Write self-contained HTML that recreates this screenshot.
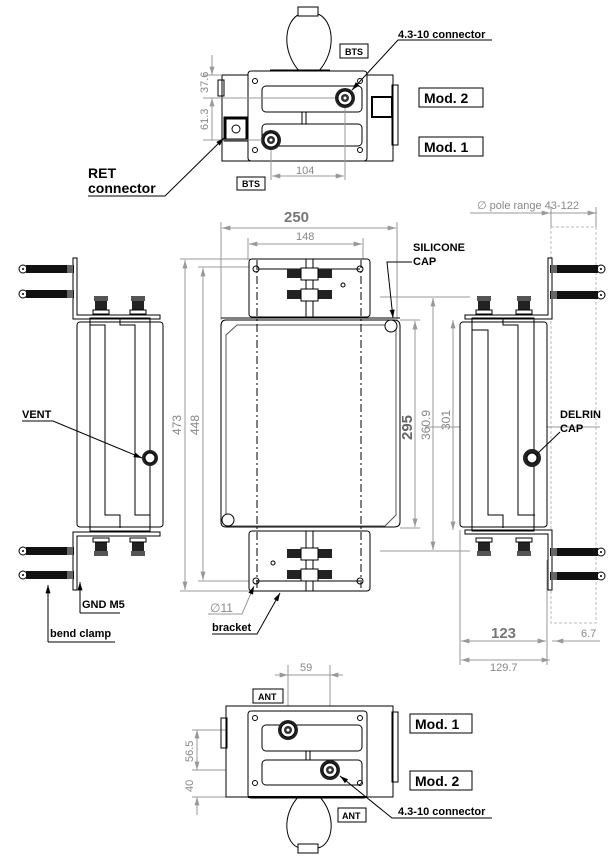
<!DOCTYPE html>
<html><head><meta charset="utf-8"><style>
html,body{margin:0;padding:0;background:#fff;}
svg{display:block;}
text{font-family:"Liberation Sans",sans-serif;}
.b{font-weight:bold;fill:#000;}
.d{fill:#888;}
</style></head><body>
<svg width="616" height="857" viewBox="0 0 616 857" xmlns="http://www.w3.org/2000/svg">
<defs>
<marker id="a" viewBox="0 0 10 6" refX="10" refY="3" markerWidth="9" markerHeight="5" orient="auto-start-reverse"><path d="M0,0L10,3L0,6z" fill="#999"/></marker>
<marker id="k" viewBox="0 0 10 6" refX="10" refY="3" markerWidth="9" markerHeight="5" orient="auto"><path d="M0,0L10,3L0,6z" fill="#000"/></marker>
<g id="bolt"><circle cx="0" cy="0" r="4" fill="#fff" stroke="#000"/><circle cx="0" cy="0" r="1" fill="#000"/><rect x="3" y="-4" width="48" height="8" fill="#111"/><rect x="44" y="-4" width="6" height="8" fill="#666"/></g>
<g id="conn"><circle r="10" fill="#222"/><circle r="7" fill="#fff" stroke="#000"/><circle r="4" fill="#333"/><circle r="1.5" fill="#fff"/></g>
<g id="sconn"><rect x="-7" y="0" width="14" height="5" fill="#555"/><rect x="-6" y="5" width="12" height="9" fill="#222"/><rect x="-8" y="14" width="16" height="4" fill="#fff" stroke="#000"/></g>
</defs>
<g fill="none" stroke="#000" stroke-width="1">

<!-- ===== TOP VIEW ===== -->
<path d="M300,72 C280,50 285,20 300,14 L318,14 C333,20 338,50 318,72Z" fill="#fff"/>
<rect x="298" y="7" width="20" height="9" fill="#fff"/>
<rect x="222" y="75" width="171" height="86" fill="#fff"/>
<rect x="218" y="80" width="6" height="16"/>
<rect x="392" y="85" width="6" height="60"/>
<rect x="248" y="71" width="119" height="90" rx="3" fill="#fff"/>
<rect x="262" y="86" width="100" height="26" rx="4"/>
<rect x="262" y="124" width="100" height="22" rx="4"/>
<line x1="302" y1="112" x2="302" y2="124" /><line x1="306" y1="112" x2="306" y2="124"/>
<rect x="372" y="97" width="20" height="20" fill="#fff" stroke-width="2"/>
<rect x="225" y="118" width="22" height="22" fill="#fff" stroke-width="3"/>
<circle cx="236" cy="129" r="4"/>
<circle cx="255" cy="81" r="2.5"/><circle cx="360" cy="81" r="2.5"/><circle cx="255" cy="150" r="2.5"/><circle cx="360" cy="150" r="2.5"/>
<line x1="270" y1="70" x2="330" y2="70"/>
</g>
<use href="#conn" x="345" y="98"/>
<use href="#conn" x="271" y="140"/>
<g stroke="#999" fill="none">
<line x1="203" y1="75" x2="222" y2="75"/><line x1="203" y1="98" x2="335" y2="98"/><line x1="203" y1="140" x2="262" y2="140"/>
<line x1="212" y1="55" x2="212" y2="75" marker-end="url(#a)"/>
<line x1="212" y1="140" x2="212" y2="98" marker-end="url(#a)"/>
<line x1="271" y1="150" x2="271" y2="180"/><line x1="345" y1="108" x2="345" y2="180"/>
<line x1="272" y1="176" x2="344" y2="176" marker-start="url(#a)" marker-end="url(#a)"/>
</g>
<text x="296" y="174" font-size="11" class="d">104</text>
<text transform="translate(208,93) rotate(-90)" font-size="11" class="d">37.6</text>
<text transform="translate(208,130) rotate(-90)" font-size="11" class="d">61.3</text>
<g stroke="#000" fill="none">
<path d="M492,40 L398,40 L352,90" marker-end="url(#k)"/>
<path d="M88,196 L165,196 L224,138" marker-end="url(#k)"/>
</g>
<text x="398" y="38" font-size="11" class="b">4.3-10 connector</text>
<text x="88" y="178" font-size="14" class="b">RET</text>
<text x="88" y="193" font-size="14" class="b">connector</text>
<rect x="340" y="44" width="28" height="14" fill="#fff" stroke="#000"/><text x="345" y="55" font-size="9" class="b">BTS</text>
<rect x="237" y="177" width="28" height="13" fill="#fff" stroke="#000"/><text x="242" y="187" font-size="9" class="b">BTS</text>
<rect x="419" y="88" width="64" height="19" fill="#fff" stroke="#000"/><text x="424" y="103" font-size="14" class="b">Mod. 2</text>
<rect x="419" y="137" width="64" height="19" fill="#fff" stroke="#000"/><text x="424" y="152" font-size="14" class="b">Mod. 1</text>

<!-- ===== FRONT VIEW ===== -->
<g stroke="#999" fill="none">
<line x1="221" y1="222" x2="221" y2="320"/><line x1="397" y1="222" x2="397" y2="320"/>
<line x1="222" y1="228" x2="396" y2="228" marker-start="url(#a)" marker-end="url(#a)"/>
<line x1="248" y1="238" x2="248" y2="260"/><line x1="363" y1="238" x2="363" y2="260"/>
<line x1="249" y1="244" x2="362" y2="244" marker-start="url(#a)" marker-end="url(#a)"/>
<line x1="180" y1="259" x2="250" y2="259"/><line x1="180" y1="591" x2="250" y2="591"/>
<line x1="185" y1="260" x2="185" y2="590" marker-start="url(#a)" marker-end="url(#a)"/>
<line x1="198" y1="267" x2="258" y2="267"/><line x1="198" y1="581" x2="258" y2="581"/>
<line x1="203" y1="268" x2="203" y2="580" marker-start="url(#a)" marker-end="url(#a)"/>
<line x1="400" y1="320" x2="420" y2="320"/><line x1="400" y1="528" x2="420" y2="528"/>
<line x1="415" y1="321" x2="415" y2="527" marker-start="url(#a)" marker-end="url(#a)"/>
<line x1="380" y1="297" x2="470" y2="297"/><line x1="380" y1="551" x2="470" y2="551"/>
<line x1="433" y1="298" x2="433" y2="550" marker-start="url(#a)" marker-end="url(#a)"/>
<line x1="453" y1="320" x2="453" y2="530" marker-start="url(#a)" marker-end="url(#a)"/>
</g>
<text x="284" y="222" font-size="15" fill="#777" font-weight="bold">250</text>
<text x="296" y="240" font-size="11" class="d">148</text>
<text transform="translate(181,435) rotate(-90)" font-size="12" class="d">473</text>
<text transform="translate(199,435) rotate(-90)" font-size="12" class="d">448</text>
<text transform="translate(412,440) rotate(-90)" font-size="15" fill="#666" font-weight="bold">295</text>
<text transform="translate(430,440) rotate(-90)" font-size="12" class="d">360.9</text>
<text transform="translate(450,430) rotate(-90)" font-size="12" class="d">301</text>
<g stroke="#000" fill="none">
<rect x="249" y="259" width="121" height="58" rx="3" fill="#fff"/>
<rect x="249" y="531" width="121" height="60" rx="3" fill="#fff"/>
<path d="M226,320 L394,320 Q400,320 400,326 L400,522 Q400,527 394,527 L226,527 Q221,527 221,522 L221,326 Q221,320 226,320Z" fill="#fff"/>
<path d="M237,325 L396,325 L396,515 L385,526 L226,526 L226,335Z" stroke="#555"/>
<line x1="221" y1="318" x2="400" y2="318"/>
<circle cx="391" cy="326" r="6" fill="#fff"/><circle cx="228" cy="520" r="6" fill="#fff"/>
<circle cx="256" cy="269" r="3"/><circle cx="360" cy="269" r="3"/><circle cx="256" cy="581" r="3"/><circle cx="360" cy="581" r="3"/>
<circle cx="343" cy="285" r="2"/><circle cx="273" cy="563" r="2"/>
<g stroke="#000" stroke-dasharray="8,3,2,3"><line x1="257" y1="260" x2="257" y2="590"/><line x1="361" y1="260" x2="361" y2="590"/></g>
<line x1="256" y1="269" x2="360" y2="269"/><line x1="256" y1="581" x2="360" y2="581"/>
<line x1="306" y1="259" x2="306" y2="317"/><line x1="313" y1="259" x2="313" y2="317"/>
<line x1="306" y1="531" x2="306" y2="591"/><line x1="313" y1="531" x2="313" y2="591"/>
</g>
<g fill="#222">
<rect x="287" y="269" width="14" height="9"/><rect x="318" y="269" width="14" height="9"/>
<rect x="287" y="290" width="14" height="9"/><rect x="318" y="290" width="14" height="9"/>
<rect x="287" y="549" width="14" height="9"/><rect x="318" y="549" width="14" height="9"/>
<rect x="287" y="570" width="14" height="9"/><rect x="318" y="570" width="14" height="9"/>
</g>
<g stroke="#000" fill="#fff"><rect x="301" y="268" width="17" height="12"/><rect x="301" y="289" width="17" height="12"/><rect x="301" y="548" width="17" height="12"/><rect x="301" y="569" width="17" height="12"/></g>
<g stroke="#000" fill="none">
<path d="M412,262 L387,262 L393,318" marker-end="url(#k)"/>
<path d="M208,614 L242,614 L254,586" stroke="#999" marker-end="url(#k)"/>
<path d="M212,634 L257,634 L280,593" marker-end="url(#k)"/>
</g>
<text x="413" y="251" font-size="11" class="b">SILICONE</text>
<text x="413" y="265" font-size="11" class="b">CAP</text>
<text x="210" y="612" font-size="12" class="d">∅11</text>
<text x="212" y="631" font-size="11" class="b">bracket</text>

<!-- ===== LEFT SIDE VIEW ===== -->
<g stroke="#000" fill="#fff">
<path d="M73,258 L77,258 L77,315 L160,315 L160,319 L73,319Z"/>
<path d="M73,590 L77,590 L77,536 L160,536 L160,532 L73,532Z"/>
<rect x="77" y="322" width="86" height="205" rx="3"/>
<rect x="90" y="318" width="60" height="213" fill="none"/>
<path d="M90,325 L105,325 L105,515 L120,515 L120,528" fill="none"/>
<path d="M120,318 L120,325 L135,325 L135,515 L150,515" fill="none"/>
</g>
<use href="#sconn" x="101" y="296"/><use href="#sconn" x="138" y="296"/>
<g transform="translate(101,556) scale(1,-1)"><use href="#sconn"/></g>
<g transform="translate(138,556) scale(1,-1)"><use href="#sconn"/></g>
<use href="#bolt" x="23" y="269"/><use href="#bolt" x="23" y="294"/>
<use href="#bolt" x="23" y="551"/><use href="#bolt" x="23" y="575"/>
<circle cx="150" cy="458" r="8" fill="#222"/><circle cx="150" cy="458" r="5" fill="#fff" stroke="#000"/>
<g stroke="#000" fill="none">
<path d="M22,421 L53,421 L142,458" marker-end="url(#k)"/>
<path d="M80,613 L80,582" marker-end="url(#k)"/>
<path d="M48,642 L48,585" marker-end="url(#k)"/>
<line x1="80" y1="613" x2="120" y2="613"/><line x1="48" y1="642" x2="115" y2="642"/>
</g>
<text x="22" y="418" font-size="11" class="b">VENT</text>
<text x="82" y="608" font-size="11" class="b">GND M5</text>
<text x="50" y="637" font-size="11" class="b">bend clamp</text>

<!-- ===== RIGHT SIDE VIEW ===== -->
<g stroke="#999" fill="none">
<rect x="551" y="227" width="45" height="396" stroke-dasharray="3,2" stroke="#bbb"/>
<line x1="470" y1="213" x2="597" y2="213"/>
<line x1="551" y1="207" x2="551" y2="227"/><line x1="596" y1="207" x2="596" y2="227"/>
<line x1="535" y1="213" x2="550" y2="213" marker-end="url(#a)"/><line x1="596" y1="213" x2="581" y2="213" marker-start="url(#a)"/>
<line x1="460" y1="530" x2="460" y2="665"/><line x1="547" y1="560" x2="547" y2="665"/>
<line x1="461" y1="641" x2="546" y2="641" marker-start="url(#a)" marker-end="url(#a)"/>
<line x1="461" y1="660" x2="550" y2="660" marker-start="url(#a)" marker-end="url(#a)"/>
<line x1="552" y1="641" x2="600" y2="641"/>
<line x1="555" y1="641" x2="566" y2="641" marker-start="url(#a)"/>
<line x1="425" y1="427" x2="600" y2="427"/>
</g>
<text x="477" y="209" font-size="11" class="d">∅ pole range 43-122</text>
<text x="491" y="638" font-size="15" fill="#777" font-weight="bold">123</text>
<text x="490" y="671" font-size="11" class="d">129.7</text>
<text x="581" y="637" font-size="11" class="d">6.7</text>
<g stroke="#000" fill="#fff">
<path d="M548,258 L552,258 L552,319 L465,319 L465,315 L548,315Z"/>
<path d="M548,590 L552,590 L552,530 L465,530 L465,534 L548,534Z"/>
<rect x="460" y="322" width="87" height="205" rx="3"/>
<rect x="472" y="318" width="62" height="213" fill="none"/>
<path d="M472,330 L488,330 L488,515 L503,515 L503,528" fill="none"/>
<path d="M503,318 L503,325 L518,325 L518,515 L535,515" fill="none"/>
</g>
<use href="#sconn" x="484" y="296"/><use href="#sconn" x="524" y="296"/>
<g transform="translate(484,556) scale(1,-1)"><use href="#sconn"/></g>
<g transform="translate(524,556) scale(1,-1)"><use href="#sconn"/></g>
<g transform="translate(601,269) scale(-1,1)"><use href="#bolt"/></g>
<g transform="translate(601,295) scale(-1,1)"><use href="#bolt"/></g>
<g transform="translate(601,552) scale(-1,1)"><use href="#bolt"/></g>
<g transform="translate(601,576) scale(-1,1)"><use href="#bolt"/></g>
<circle cx="532" cy="458" r="9" fill="#222"/><circle cx="532" cy="458" r="5" fill="#fff" stroke="#000"/>
<line x1="560" y1="432" x2="537" y2="454" stroke="#000"/>
<text x="560" y="418" font-size="11" class="b">DELRIN</text>
<text x="560" y="432" font-size="11" class="b">CAP</text>

<!-- ===== BOTTOM VIEW ===== -->
<g stroke="#999" fill="none">
<line x1="288" y1="665" x2="288" y2="728"/><line x1="330" y1="665" x2="330" y2="770"/>
<line x1="275" y1="675" x2="288" y2="675" marker-end="url(#a)"/><line x1="343" y1="675" x2="330" y2="675" marker-end="url(#a)"/>
<line x1="288" y1="675" x2="330" y2="675"/>
<line x1="192" y1="730" x2="280" y2="730"/><line x1="192" y1="770" x2="320" y2="770"/><line x1="192" y1="797" x2="250" y2="797"/>
<line x1="197" y1="730" x2="197" y2="770" marker-start="url(#a)" marker-end="url(#a)"/>
<line x1="197" y1="815" x2="197" y2="797" marker-end="url(#a)"/>
</g>
<text x="300" y="671" font-size="11" class="d">59</text>
<text transform="translate(193,762) rotate(-90)" font-size="11" class="d">56.5</text>
<text transform="translate(193,792) rotate(-90)" font-size="11" class="d">40</text>
<g stroke="#000" fill="none">
<path d="M300,795 C280,815 285,845 300,848 L318,848 C333,845 338,815 318,795Z" fill="#fff"/>
<rect x="298" y="844" width="20" height="9" fill="#fff"/>
<rect x="226" y="706" width="167" height="91" fill="#fff"/>
<rect x="221" y="718" width="6" height="30"/>
<rect x="392" y="712" width="6" height="70"/>
<rect x="248" y="711" width="119" height="87" rx="3" fill="#fff"/>
<rect x="262" y="725" width="100" height="26" rx="4"/>
<rect x="262" y="760" width="100" height="25" rx="4"/>
<line x1="306" y1="751" x2="306" y2="760"/><line x1="310" y1="751" x2="310" y2="760"/>
<circle cx="255" cy="718" r="2.5"/><circle cx="360" cy="718" r="2.5"/><circle cx="255" cy="783" r="2.5"/><circle cx="360" cy="783" r="2.5"/>
<line x1="248" y1="797" x2="367" y2="797" stroke-width="2"/>
</g>
<use href="#conn" x="288" y="730"/>
<use href="#conn" x="330" y="770"/>
<path d="M492,818 L392,818 L340,776" stroke="#000" fill="none" marker-end="url(#k)"/>
<text x="398" y="815" font-size="11" class="b">4.3-10 connector</text>
<rect x="253" y="689" width="30" height="14" fill="#fff" stroke="#000"/><text x="258" y="700" font-size="9" class="b">ANT</text>
<rect x="338" y="808" width="28" height="14" fill="#fff" stroke="#000"/><text x="342" y="819" font-size="9" class="b">ANT</text>
<rect x="410" y="714" width="62" height="19" fill="#fff" stroke="#000"/><text x="415" y="729" font-size="14" class="b">Mod. 1</text>
<rect x="410" y="771" width="62" height="19" fill="#fff" stroke="#000"/><text x="415" y="786" font-size="14" class="b">Mod. 2</text>
</svg>
</body></html>
